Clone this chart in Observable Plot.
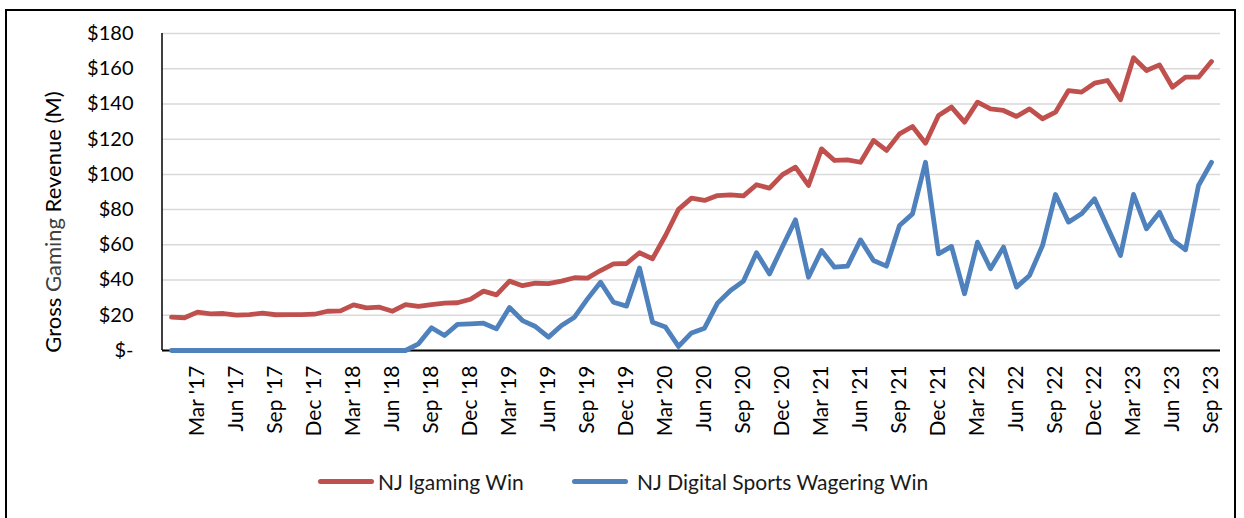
<!DOCTYPE html>
<html>
<head>
<meta charset="utf-8">
<script src="https://cdn.jsdelivr.net/npm/d3@7"></script>
<script src="https://cdn.jsdelivr.net/npm/@observablehq/plot@0.6"></script>
<style>
  html, body { margin: 0; padding: 0; background: #fff; }
  body { width: 1244px; height: 518px; position: relative; overflow: hidden; font-family: Lato, "Open Sans", sans-serif; }
  #frame { position: absolute; left: 5px; top: 9px; width: 1231px; height: 520px; border: 2px solid #000; box-sizing: border-box; }
  #chart { position: absolute; left: 0; top: 0; }
  #ylabel { position: absolute; left: 52px; top: 222px; transform: translate(-50%, -50%) rotate(-90deg); white-space: nowrap; font-size: 22px; color: #000; }
  #legend { position: absolute; top: 468px; left: 0; width: 1244px; height: 26px; font-size: 21px; color: #1a1a1a; }
  .item { position: absolute; top: 0; display: flex; align-items: center; height: 26px; white-space: nowrap; }
  .sw { display: inline-block; width: 56px; height: 5px; border-radius: 3px; margin-right: 4px; }
</style>
</head>
<body>
<div id="frame"></div>
<div id="chart"></div>
<div id="ylabel">Gross <span style="color:#404040">Gaming</span> Revenue (M)</div>
<div id="legend">
  <div class="item" style="left:318px"><span class="sw" style="background:#C0504D"></span>NJ Igaming Win</div>
  <div class="item" style="left:572px"><span class="sw" style="background:#4F81BD;margin-right:9px"></span>NJ Digital Sports Wagering Win</div>
</div>
<script>
// Month categories: Jan '17 .. Sep '23
const monthNames = ["Jan","Feb","Mar","Apr","May","Jun","Jul","Aug","Sep","Oct","Nov","Dec"];
const years = ["17","18","19","20","21","22","23"];
const months = [];
for (const yy of years) for (const mn of monthNames) {
  if (months.length < 81) months.push(mn + " '" + yy);
}

// Tick labels shown on the x axis (every quarter)
const xTickLabels = [
  "Mar '17","Jun '17","Sep '17","Dec '17","Mar '18","Jun '18","Sep '18","Dec '18",
  "Mar '19","Jun '19","Sep '19","Dec '19","Mar '20","Jun '20","Sep '20","Dec '20",
  "Mar '21","Jun '21","Sep '21","Dec '21","Mar '22","Jun '22","Sep '22","Dec '22",
  "Mar '23","Jun '23","Sep '23"
];
const yTicks = [0, 20, 40, 60, 80, 100, 120, 140, 160, 180];

// NJ Igaming Win ($M), Jan 2017 - Sep 2023
const igaming = [
  18.9, 18.6, 21.8, 20.8, 21.0, 20.1, 20.4, 21.2, 20.3, 20.4, 20.4, 20.6,
  22.3, 22.5, 25.9, 24.2, 24.6, 22.3, 26.1, 25.0, 26.1, 26.9, 27.1, 29.1,
  33.7, 31.6, 39.4, 36.8, 38.2, 38.0, 39.4, 41.3, 41.1, 45.4, 49.2, 49.4,
  55.5, 52.1, 65.3, 80.1, 86.5, 85.2, 88.0, 88.4, 87.8, 94.1, 92.2, 99.9,
  104.1, 93.7, 114.5, 107.9, 108.3, 106.9, 119.3, 113.6, 123.0, 127.2, 117.7, 133.4,
  138.2, 129.7, 141.0, 137.2, 136.3, 132.9, 137.2, 131.6, 135.3, 147.6, 146.7, 151.8,
  153.3, 142.4, 166.2, 159.0, 162.2, 149.5, 155.2, 155.2, 164.1
];

// NJ Digital Sports Wagering Win ($M), Jan 2017 - Sep 2023
const sports = [
  0, 0, 0, 0, 0, 0, 0, 0, 0, 0, 0, 0,
  0, 0, 0, 0, 0, 0, 0, 3.8, 12.9, 8.5, 14.8, 15.1,
  15.5, 12.3, 24.4, 17.0, 13.6, 7.6, 14.2, 18.9, 29.3, 38.8, 27.4, 25.2,
  46.9, 16.1, 13.3, 2.3, 10.0, 12.7, 26.9, 34.1, 39.4, 55.5, 43.5, 59.1,
  74.2, 41.6, 56.8, 47.3, 47.9, 62.8, 51.1, 47.9, 71.0, 77.6, 106.9, 54.9,
  59.1, 32.2, 61.5, 46.4, 58.7, 36.0, 42.6, 59.6, 88.6, 72.9, 77.6, 86.1,
  70.0, 53.9, 88.6, 69.1, 78.5, 62.8, 57.2, 93.7, 106.9
];

const data = months.map((m, i) => ({m, igaming: igaming[i], sports: sports[i]}));

const leftAxisLine = (index, scales, values, dims) => {
  const l = document.createElementNS("http://www.w3.org/2000/svg", "line");
  l.setAttribute("x1", dims.marginLeft);
  l.setAttribute("x2", dims.marginLeft);
  l.setAttribute("y1", dims.marginTop);
  l.setAttribute("y2", dims.height - dims.marginBottom);
  l.setAttribute("stroke", "#000");
  l.setAttribute("stroke-width", 1.5);
  return l;
};

const chart = Plot.plot({
  width: 1244,
  height: 450,
  marginLeft: 162,
  marginRight: 24,
  marginTop: 33,
  marginBottom: 100,
  style: {fontFamily: "Lato, 'Open Sans', sans-serif", fontSize: "20px", color: "#000", background: "transparent", overflow: "visible"},
  x: {type: "point", domain: months, padding: 0.5},
  y: {domain: [0, 180]},
  marks: [
    Plot.gridY(yTicks, {stroke: "#d9d9d9", strokeOpacity: 1, strokeWidth: 1.5}),
    Plot.axisY({ticks: yTicks, tickSize: 0, tickPadding: 29, label: null, fontSize: 20,
      tickFormat: d => d === 0 ? "$-" : "$" + d}),
    Plot.axisX({ticks: xTickLabels, tickSize: 0, tickPadding: 15, tickRotate: -90, label: null, fontSize: 21}),
    leftAxisLine,
    Plot.ruleY([0], {stroke: "#000", strokeWidth: 2}),
    Plot.lineY(data, {x: "m", y: "igaming", stroke: "#C0504D", strokeWidth: 4.8, strokeLinecap: "round", strokeLinejoin: "round"}),
    Plot.lineY(data, {x: "m", y: "sports", stroke: "#4F81BD", strokeWidth: 4.8, strokeLinecap: "round", strokeLinejoin: "round"})
  ]
});
document.getElementById("chart").appendChild(chart);
</script>
</body>
</html>
